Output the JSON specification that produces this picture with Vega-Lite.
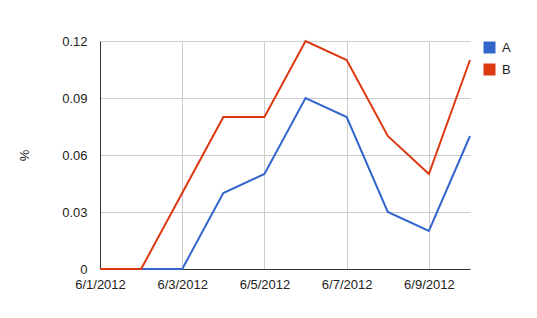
{
  "$schema": "https://vega.github.io/schema/vega-lite/v6.json",
  "width": 370,
  "height": 228,
  "autosize": {"type": "none"},
  "padding": {"left": 100, "top": 41, "right": 67, "bottom": 49},
  "background": "white",
  "config": {
    "view": {"stroke": null},
    "font": "Liberation Sans",
    "axis": {"labelFont": "Liberation Sans", "labelFontSize": 13, "labelColor": "#222", "titleFont": "Liberation Sans"}
  },
  "data": {
    "values": [
      {"date": "2012-06-01", "series": "A", "value": 0},
      {"date": "2012-06-02", "series": "A", "value": 0},
      {"date": "2012-06-03", "series": "A", "value": 0},
      {"date": "2012-06-04", "series": "A", "value": 0.04},
      {"date": "2012-06-05", "series": "A", "value": 0.05},
      {"date": "2012-06-06", "series": "A", "value": 0.09},
      {"date": "2012-06-07", "series": "A", "value": 0.08},
      {"date": "2012-06-08", "series": "A", "value": 0.03},
      {"date": "2012-06-09", "series": "A", "value": 0.02},
      {"date": "2012-06-10", "series": "A", "value": 0.07},
      {"date": "2012-06-01", "series": "B", "value": 0},
      {"date": "2012-06-02", "series": "B", "value": 0},
      {"date": "2012-06-03", "series": "B", "value": 0.04},
      {"date": "2012-06-04", "series": "B", "value": 0.08},
      {"date": "2012-06-05", "series": "B", "value": 0.08},
      {"date": "2012-06-06", "series": "B", "value": 0.12},
      {"date": "2012-06-07", "series": "B", "value": 0.11},
      {"date": "2012-06-08", "series": "B", "value": 0.07},
      {"date": "2012-06-09", "series": "B", "value": 0.05},
      {"date": "2012-06-10", "series": "B", "value": 0.11}
    ]
  },
  "mark": {"type": "line", "strokeWidth": 2},
  "encoding": {
    "x": {
      "field": "date",
      "type": "temporal",
      "scale": {"type": "utc", "nice": false},
      "axis": {
        "title": null,
        "format": "%-m/%-d/%Y",
        "tickCount": {"interval": "day", "step": 2},
        "ticks": false,
        "labelPadding": 9,
        "labelOverlap": false,
        "labelFlush": false,
        "labelBound": false,
        "domainColor": "#333",
        "domainWidth": 1,
        "grid": true,
        "gridColor": "#ccc"
      }
    },
    "y": {
      "field": "value",
      "type": "quantitative",
      "scale": {"domain": [0, 0.12], "nice": false, "zero": true},
      "axis": {
        "title": "%",
        "titleAngle": -90,
        "titleX": -76,
        "titleY": 114,
        "titleBaseline": "middle",
        "titleAlign": "center",
        "titleFontSize": 13,
        "titleFontWeight": "normal",
        "titleColor": "#222",
        "values": [0, 0.03, 0.06, 0.09, 0.12],
        "labelExpr": "datum.value == 0 ? '0' : format(datum.value, '.2f')",
        "ticks": false,
        "labelPadding": 13,
        "labelFlush": false,
        "domainColor": "#333",
        "gridColor": "#ccc"
      }
    },
    "color": {
      "field": "series",
      "type": "nominal",
      "scale": {"domain": ["A", "B"], "range": ["#3366cc", "#dc3912"]},
      "legend": {
        "title": null,
        "orient": "none",
        "legendX": 383,
        "legendY": 0,
        "symbolType": "square",
        "symbolSize": 144,
        "symbolStrokeWidth": 0,
        "symbolOpacity": 1,
        "labelFontSize": 13,
        "labelColor": "#222",
        "labelFont": "Liberation Sans",
        "rowPadding": 8,
        "labelOffset": 6,
        "encode": {
          "symbols": {
            "update": {
              "fill": {"scale": "color", "field": "value"},
              "strokeWidth": {"value": 0}
            }
          }
        }
      }
    }
  }
}
